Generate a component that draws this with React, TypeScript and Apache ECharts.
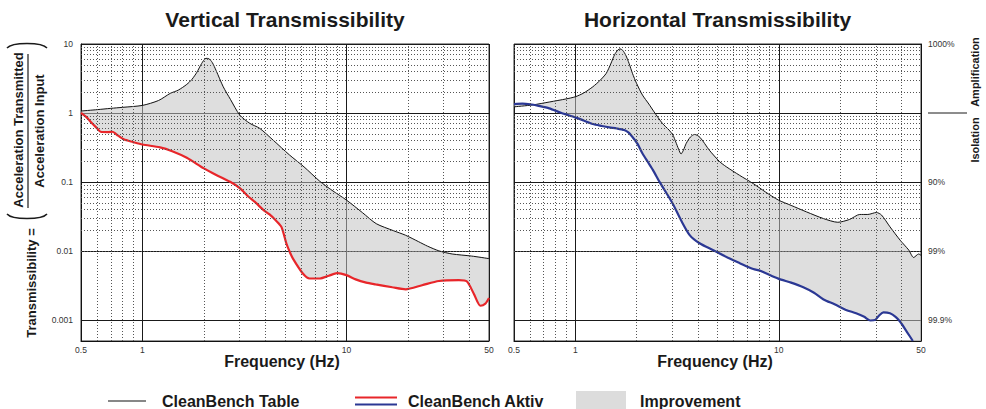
import React, { useEffect, useRef } from 'react';
import * as echarts from 'echarts';

// ---------- data ----------
const vertTableFreq = [0.5, 0.6, 0.7, 0.8, 1.0, 1.2, 1.37, 1.5, 1.65, 1.75, 1.85, 1.95, 2.05, 2.12, 2.2, 2.3, 2.49, 2.7, 3.0, 3.36, 3.76, 4.37, 5.27, 6.2, 7.4, 8.5, 10, 12, 14, 17, 19.5, 22.6, 25, 28.4, 33, 41, 50];
const vertTableVal = [1.07, 1.12, 1.17, 1.21, 1.29, 1.52, 1.93, 2.15, 2.6, 3.08, 3.9, 5.2, 6.2, 6.1, 5.4, 4.1, 2.4, 1.58, 0.935, 0.71, 0.6, 0.406, 0.246, 0.166, 0.103, 0.076, 0.055, 0.036, 0.025, 0.0198, 0.017, 0.0137, 0.0118, 0.0101, 0.0091, 0.0085, 0.0078];

const vertAktivFreq = [0.5, 0.53, 0.557, 0.6, 0.624, 0.68, 0.712, 0.76, 0.81, 0.9, 1.0, 1.22, 1.4, 1.65, 2.0, 2.3, 2.69, 3.0, 3.3, 3.6, 3.9, 4.2, 4.5, 4.8, 5.08, 5.27, 5.47, 6.1, 6.6, 7.4, 8.2, 9.0, 10, 11.1, 12.5, 13.9, 16.8, 19.5, 23.5, 28.4, 35.6, 39, 42, 45.4, 48, 50];
const vertAktivVal = [1.01, 0.88, 0.75, 0.6, 0.536, 0.53, 0.536, 0.47, 0.416, 0.38, 0.35, 0.318, 0.28, 0.225, 0.158, 0.127, 0.101, 0.082, 0.062, 0.05, 0.04, 0.034, 0.028, 0.0225, 0.0129, 0.0098, 0.0078, 0.0048, 0.00402, 0.00402, 0.0044, 0.0048, 0.0045, 0.0039, 0.0035, 0.0033, 0.003, 0.0028, 0.00321, 0.0037, 0.0038, 0.00363, 0.00246, 0.00162, 0.00174, 0.0021];

const horTableFreq = [0.5, 0.616, 0.75, 0.9, 1.0, 1.1, 1.22, 1.32, 1.42, 1.5, 1.56, 1.62, 1.66, 1.71, 1.77, 1.84, 1.91, 2.0, 2.14, 2.3, 2.44, 2.68, 2.89, 3.02, 3.12, 3.22, 3.31, 3.4, 3.51, 3.68, 3.86, 4.1, 4.56, 5.12, 5.52, 6.43, 7.5, 8.6, 9.95, 11.5, 13.7, 16.6, 19.5, 22.3, 25, 27.4, 30.2, 32, 35.2, 39.5, 43.5, 46, 48.7, 50];
const horTableVal = [1.23, 1.31, 1.45, 1.6, 1.72, 1.95, 2.4, 2.95, 3.76, 5.3, 7.0, 8.2, 8.5, 8.1, 6.9, 5.2, 3.76, 2.7, 1.82, 1.35, 1.04, 0.71, 0.567, 0.48, 0.38, 0.3, 0.255, 0.29, 0.364, 0.45, 0.49, 0.445, 0.29, 0.198, 0.167, 0.125, 0.095, 0.072, 0.055, 0.046, 0.037, 0.0296, 0.0262, 0.0288, 0.034, 0.034, 0.0363, 0.0333, 0.0225, 0.0144, 0.0104, 0.0081, 0.0091, 0.0087];

const horAktivFreq = [0.5, 0.55, 0.6, 0.66, 0.745, 0.85, 1.0, 1.1, 1.22, 1.35, 1.47, 1.6, 1.74, 1.83, 1.91, 2.02, 2.14, 2.27, 2.41, 2.6, 3.01, 3.31, 3.65, 4.08, 4.74, 5.74, 6.43, 7.5, 8.1, 9.95, 11.5, 13.2, 14.9, 16.6, 18.8, 21.4, 24, 26.3, 28.2, 29.8, 31.2, 32.7, 35.2, 37.5, 39.5, 42.6, 45.6];
const horAktivVal = [1.35, 1.37, 1.34, 1.27, 1.17, 1.01, 0.866, 0.78, 0.693, 0.65, 0.62, 0.598, 0.567, 0.52, 0.45, 0.36, 0.26, 0.197, 0.149, 0.1, 0.049, 0.028, 0.0171, 0.013, 0.0104, 0.0078, 0.0067, 0.0055, 0.0052, 0.004, 0.0035, 0.003, 0.0025, 0.002, 0.0017, 0.00141, 0.00126, 0.00112, 0.00099, 0.00101, 0.00118, 0.0013, 0.00126, 0.00112, 0.00095, 0.00068, 0.0005];

const xTickValues = [0.5, 1, 10, 50];
const xTickLabels = ['0.5', '1', '10', '50'];
const yTickValues = [0.001, 0.01, 0.1, 1, 10];
const yTickLabelsLeft = ['0.001', '0.01', '0.1', '1', '10'];
const yTickValuesRight = [0.001, 0.01, 0.1, 10];
const yTickLabelsRight = ['99.9%', '99%', '90%', '1000%'];
const xMinor = [0.6, 0.7, 0.8, 0.9, 2, 3, 4, 5, 6, 7, 8, 9, 20, 30, 40];
const yMinor = [0.0006, 0.0007, 0.0008, 0.0009, 0.002, 0.003, 0.004, 0.005, 0.006, 0.007, 0.008, 0.009, 0.02, 0.03, 0.04, 0.05, 0.06, 0.07, 0.08, 0.09, 0.2, 0.3, 0.4, 0.5, 0.6, 0.7, 0.8, 0.9, 2, 3, 4, 5, 6, 7, 8, 9];
const X_MIN = 0.5, X_MAX = 50, Y_MIN = 0.0005, Y_MAX = 10;

const titles = ['Vertical Transmissibility', 'Horizontal Transmissibility'];
const legendNames = ['CleanBench Table', 'CleanBench Aktiv', 'Improvement'];

// ---------- styles ----------
const FONT = '"Liberation Sans", Arial, Helvetica, sans-serif';
const RED = '#e8262a';
const BLUE = '#2b3894';
const FILL = 'rgba(195,195,195,0.55)';
const SWATCH = '#dcdcdc';

const zip = (f: number[], v: number[]) => f.map((x, i) => [x, v[i]]);
const lookup = (vals: number[], labels: string[]) => (v: number) => {
  const i = vals.findIndex((t) => Math.abs(Math.log10(v) - Math.log10(t)) < 0.01);
  return i >= 0 ? labels[i] : '';
};

export default function App() {
  const ref = useRef<HTMLDivElement>(null);
  useEffect(() => {
    const chart = echarts.init(ref.current!, null, { renderer: 'svg' });

    const vt = zip(vertTableFreq, vertTableVal);
    const va = zip(vertAktivFreq, vertAktivVal);
    const ht = zip(horTableFreq, horTableVal);
    const ha = zip(horAktivFreq, horAktivVal);
    const polyLeft = [...vt, ...va.slice().reverse()];
    const polyRight = [...ht, [X_MAX, Y_MIN], ...ha.slice().reverse()];

    const minorLines = [
      ...xMinor.map((x) => ({ xAxis: x })),
      ...yMinor.map((y) => ({ yAxis: y })),
    ];

    const xAxisBase = (gi: number) => ({
      type: 'log',
      logBase: 10,
      gridIndex: gi,
      min: X_MIN,
      max: X_MAX,
      axisLine: { show: true, lineStyle: { color: '#111', width: 1 } },
      axisTick: { show: false },
      splitLine: { show: true, lineStyle: { color: '#1a1a1a', width: 1 } },
      axisLabel: {
        show: true,
        margin: 4,
        fontSize: 8.5,
        color: '#333',
        fontFamily: FONT,
        showMinLabel: true,
        showMaxLabel: true,
        formatter: lookup(xTickValues, xTickLabels),
      },
    });
    const yAxisBase = (gi: number, right: boolean) => ({
      type: 'log',
      logBase: 10,
      gridIndex: gi,
      min: Y_MIN,
      max: Y_MAX,
      position: right ? 'right' : 'left',
      axisLine: { show: true, lineStyle: { color: '#111', width: 1 } },
      axisTick: { show: false },
      splitLine: { show: true, lineStyle: { color: '#1a1a1a', width: 1 } },
      axisLabel: {
        show: true,
        margin: right ? 7 : 8,
        fontSize: 8.5,
        color: '#333',
        fontFamily: FONT,
        showMinLabel: true,
        showMaxLabel: true,
        formatter: right ? lookup(yTickValuesRight, yTickLabelsRight) : lookup(yTickValues, yTickLabelsLeft),
      },
    });

    const minorSeries = (gi: number) => ({
      type: 'scatter',
      xAxisIndex: gi,
      yAxisIndex: gi,
      data: [],
      silent: true,
      z: 1,
      markLine: {
        silent: true,
        symbol: ['none', 'none'],
        label: { show: false },
        lineStyle: { color: '#555', width: 1, type: [1, 2] },
        emphasis: { disabled: true },
        data: minorLines,
        animation: false,
      },
    });
    const fillSeries = (gi: number, pts: number[][]) => ({
      type: 'custom',
      xAxisIndex: gi,
      yAxisIndex: gi,
      data: [[1, 1]],
      silent: true,
      z: 2,
      renderItem: (_p: any, api: any) => ({
        type: 'polygon',
        shape: { points: pts.map((p) => api.coord(p)) },
        style: { fill: FILL, stroke: 'none' },
      }),
    });
    const lineSeries = (gi: number, name: string, data: number[][], color: string, width: number) => ({
      type: 'line',
      name,
      xAxisIndex: gi,
      yAxisIndex: gi,
      data,
      showSymbol: false,
      smooth: 0.25,
      z: 3,
      lineStyle: { color, width },
      itemStyle: { color },
    });

    const txt = (text: string, x: number, y: number, size: number, opts: any = {}) => ({
      type: 'text',
      x,
      y,
      rotation: opts.rotation || 0,
      silent: true,
      style: {
        text,
        fill: '#1a1a1a',
        font: `bold ${size}px ${FONT}`,
        textAlign: opts.align || 'center',
        textVerticalAlign: 'middle',
      },
    });

    const graphics: any[] = [
      txt(titles[0], 285, 19.5, 21),
      txt(titles[1], 717.5, 19.5, 21),
      txt('Frequency (Hz)', 282, 361, 16),
      txt('Frequency (Hz)', 715, 361, 16),
      // left y label
      txt('Acceleration Transmitted', 18, 130, 13, { rotation: Math.PI / 2 }),
      txt('Acceleration Input', 39, 131, 13, { rotation: Math.PI / 2 }),
      txt('Transmissibility =', 31, 283, 13, { rotation: Math.PI / 2 }),
      { type: 'line', silent: true, shape: { x1: 28, y1: 54, x2: 28, y2: 208 }, style: { stroke: '#1a1a1a', lineWidth: 1.2 } },
      { type: 'bezierCurve', silent: true, shape: { x1: 7, y1: 48, cpx1: 12, cpy1: 42, cpx2: 42, cpy2: 42, x2: 47, y2: 48 }, style: { stroke: '#1a1a1a', lineWidth: 1.5, fill: 'none' } },
      { type: 'bezierCurve', silent: true, shape: { x1: 7, y1: 214, cpx1: 12, cpy1: 220, cpx2: 42, cpy2: 220, x2: 47, y2: 214 }, style: { stroke: '#1a1a1a', lineWidth: 1.5, fill: 'none' } },
      // right labels
      txt('Amplification', 975, 72, 11, { rotation: Math.PI / 2 }),
      txt('Isolation', 975, 140, 11, { rotation: Math.PI / 2 }),
      { type: 'line', silent: true, shape: { x1: 928, y1: 113, x2: 967, y2: 113 }, style: { stroke: '#1a1a1a', lineWidth: 1 } },
      // legend
      { type: 'line', silent: true, shape: { x1: 108, y1: 401, x2: 146, y2: 401 }, style: { stroke: '#111', lineWidth: 1.2 } },
      txt(legendNames[0], 162, 401, 16, { align: 'left' }),
      { type: 'line', silent: true, shape: { x1: 355, y1: 397.5, x2: 397, y2: 397.5 }, style: { stroke: RED, lineWidth: 2 } },
      { type: 'line', silent: true, shape: { x1: 355, y1: 404.5, x2: 397, y2: 404.5 }, style: { stroke: BLUE, lineWidth: 2 } },
      txt(legendNames[1], 408, 401, 16, { align: 'left' }),
      { type: 'rect', silent: true, shape: { x: 576, y: 391, width: 50, height: 18 }, style: { fill: SWATCH } },
      txt(legendNames[2], 640, 401, 16, { align: 'left' }),
    ];

    chart.setOption({
      animation: false,
      backgroundColor: '#ffffff',
      textStyle: { fontFamily: FONT },
      grid: [
        { left: 81, top: 44, width: 408, height: 297, show: true, borderColor: '#333', borderWidth: 1 },
        { left: 514, top: 44, width: 407, height: 297, show: true, borderColor: '#333', borderWidth: 1 },
      ],
      xAxis: [xAxisBase(0), xAxisBase(1)],
      yAxis: [yAxisBase(0, false), yAxisBase(1, true)],
      series: [
        minorSeries(0),
        fillSeries(0, polyLeft),
        lineSeries(0, legendNames[0], vt, '#111', 1),
        lineSeries(0, legendNames[1], va, RED, 2.2),
        minorSeries(1),
        fillSeries(1, polyRight),
        lineSeries(1, legendNames[0], ht, '#111', 1),
        lineSeries(1, legendNames[1], ha, BLUE, 2.2),
      ],
      graphic: graphics,
    });
    return () => chart.dispose();
  }, []);
  return <div ref={ref} style={{ position: 'fixed', left: 0, top: 0, width: 986, height: 409 }} />;
}
